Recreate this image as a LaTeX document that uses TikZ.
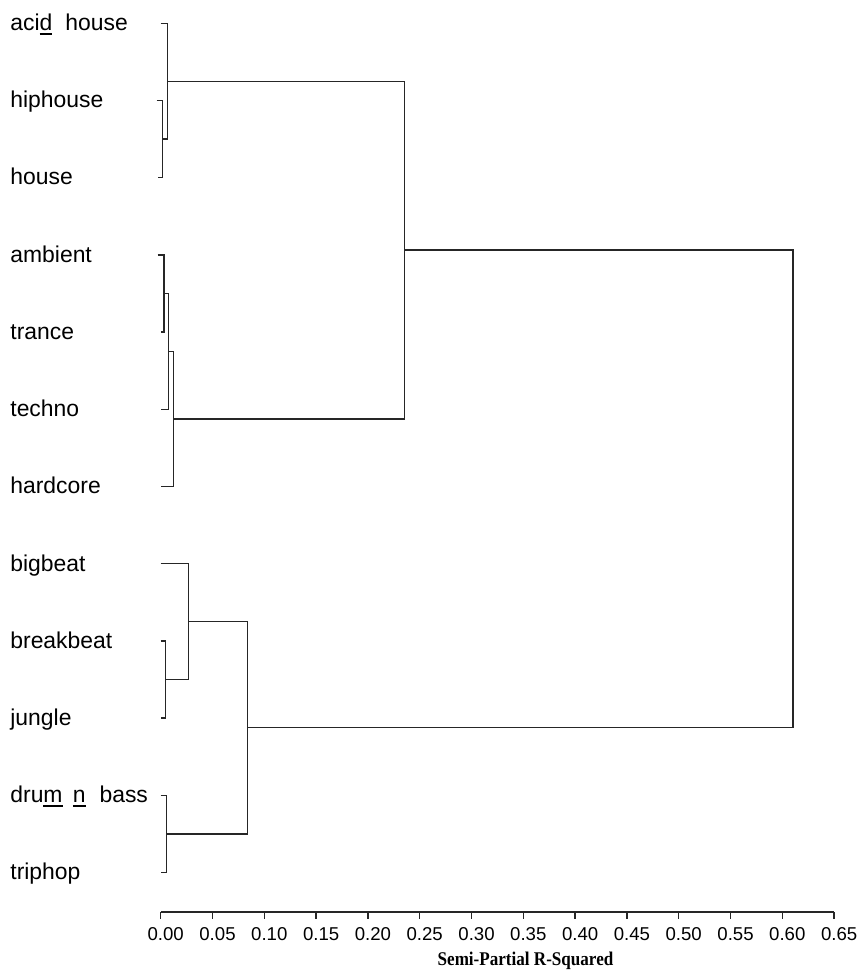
\documentclass[tikz,border=0pt]{standalone}
\usepackage{fontspec}
\setmainfont{Liberation Sans}
\newfontfamily\titlefont{Liberation Serif}
% underscore drawn under a letter, as in the printed labels
\newcommand{\genreul}[1]{\setbox0\hbox{#1}\rlap{\rule[-2.2pt]{\wd0}{1pt}}\box0}
% R-squared value -> picture x
\newcommand{\rsq}[1]{160.7+1036*#1}
\tikzset{
  genre/.style      = {anchor=base west, inner sep=0pt,
                       font=\fontsize{11.45}{13}\selectfont},
  link/.style       = {draw, line width=0.65pt, black!85},
  scalelabel/.style = {anchor=base, inner sep=0pt,
                       font=\fontsize{9.3}{11}\selectfont},
  axistitle/.style  = {anchor=base, inner sep=0pt,
                       font=\titlefont\bfseries\fontsize{9.7}{11}\selectfont}
}

\begin{document}
\begin{tikzpicture}[x=0.5pt, y=-0.5pt]
  \useasboundingbox (0,0) rectangle (860,972);

  % genres and the ends of their branches
  \foreach \name/\txt/\s [count=\i from 0] in {
      acid/{aci\genreul{d}\hspace{.57em}house}/0,
      hip/hiphouse/-0.004,
      house/house/-0.003,
      ambient/ambient/-0.003,
      trance/trance/0,
      techno/techno/0,
      hardcore/hardcore/0,
      bigbeat/bigbeat/0,
      breakbeat/breakbeat/0,
      jungle/jungle/0,
      drum/{dru\genreul{m}\hspace{.45em}\genreul{n}\hspace{.61em}bass}/0,
      triphop/triphop/0}
  {
    \node [genre] (\name) at (10,{30.6+77.2*\i}) {\txt};
    \coordinate (\name-s) at ({\rsq{\s}},{23.3+77.2*\i});
  }

  % merges
  \coordinate (hh)   at ({\rsq{0.0015}},139.1);
  \coordinate (ah)   at ({\rsq{0.0064}},81.2);
  \coordinate (at)   at ({\rsq{0.0032}},293.5);
  \coordinate (att)  at ({\rsq{0.0077}},351.4);
  \coordinate (atth) at ({\rsq{0.0122}},419.0);
  \coordinate (top)  at ({\rsq{0.2355}},250.1);
  \coordinate (bj)   at ({\rsq{0.0048}},679.5);
  \coordinate (bbj)  at ({\rsq{0.0266}},621.6);
  \coordinate (dt)   at ({\rsq{0.0058}},833.9);
  \coordinate (bot)  at ({\rsq{0.0836}},727.8);
  \coordinate (root) at ({\rsq{0.6103}},489.0);

  \draw [link] (hip-s) -| (hh) |- (house-s);
  \draw [link] (acid-s) -| (ah) |- (hh);
  \draw [link] (ambient-s) -| (at) |- (trance-s);
  \draw [link] (at) -| (att) |- (techno-s);
  \draw [link] (att) -| (atth) |- (hardcore-s);
  \draw [link] (ah) -| (top) |- (atth);
  \draw [link] (breakbeat-s) -| (bj) |- (jungle-s);
  \draw [link] (bigbeat-s) -| (bbj) |- (bj);
  \draw [link] (drum-s) -| (dt) |- (triphop-s);
  \draw [link] (bbj) -| (bot) |- (dt);
  \draw [link] (top) -| (root) |- (bot);

  % axis
  \foreach \lab [count=\k from 0] in
      {0.00,0.05,0.10,0.15,0.20,0.25,0.30,0.35,0.40,0.45,0.50,0.55,0.60,0.65}
  {
    \coordinate (a\k) at ({\rsq{\lab}},912);
    \draw [link] (a\k) -- ++(0,7);
    \node [scalelabel] (t\k) at ({\rsq{\lab}+5},940) {\lab};
  }
  \draw [link] (a0) -- (a13);
  \node [axistitle] (title) at (525.5,965) {\scalebox{0.88}[1]{Semi-Partial R-Squared}};
\end{tikzpicture}
\end{document}
